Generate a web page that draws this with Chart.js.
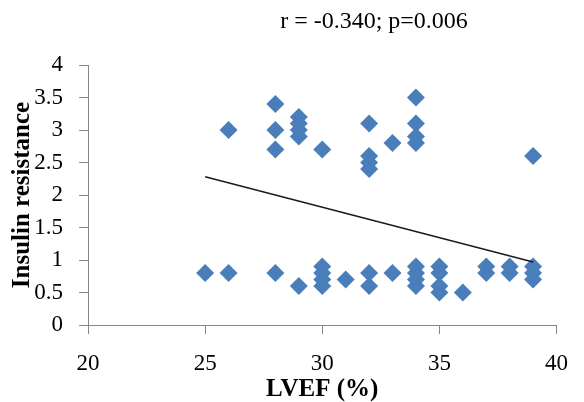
<!DOCTYPE html>
<html>
<head>
<meta charset="utf-8">
<script src="https://cdn.jsdelivr.net/npm/chart.js@4/dist/chart.umd.min.js"></script>
<style>
  body { margin: 0; background: #fff; }
</style>
</head>
<body>
<canvas id="scatter-chart" width="584" height="402"></canvas>
<script>
// data (paired by index)
const lvef = [
    26, 28, 28, 28, 29, 29, 29, 29, 30, 32, 32, 32, 32, 33, 34, 34, 34, 34, 39,
    25, 26, 28, 29, 30, 30, 30, 30, 31, 32, 32, 33, 34, 34, 34, 34,
    35, 35, 35, 35, 36, 37, 37, 38, 38, 39, 39, 39
];
const insulin = [
    3.0, 3.4, 3.0, 2.7, 3.2, 3.1, 3.0, 2.9, 2.7, 3.1, 2.6, 2.5, 2.4, 2.8, 3.5, 3.1, 2.9, 2.8, 2.6,
    0.8, 0.8, 0.8, 0.6, 0.9, 0.8, 0.7, 0.6, 0.7, 0.8, 0.6, 0.8, 0.9, 0.8, 0.7, 0.6,
    0.9, 0.8, 0.6, 0.5, 0.5, 0.9, 0.8, 0.9, 0.8, 0.9, 0.8, 0.7
];

// trend line end points
const trendX = [25, 39];
const trendY = [2.28, 0.97];

const xTicks = [20, 25, 30, 35, 40];
const yTicks = [0, 0.5, 1, 1.5, 2, 2.5, 3, 3.5, 4];
const statText = 'r = -0.340; p=0.006';

const serif = '"Liberation Serif", "Times New Roman", serif';

//stat text above the plot
const statPlugin = {
    id: 'statText',
    afterDraw(chart) {
        const ctx = chart.ctx;
        ctx.save();
        ctx.font = '24px ' + serif;
        ctx.fillStyle = '#000';
        ctx.textAlign = 'center';
        ctx.textBaseline = 'alphabetic';
        ctx.fillText(statText, 374, 28);
        ctx.restore();
    }
};

const points = lvef.map((x, i) => ({ x: x, y: insulin[i] }));
const trend = trendX.map((x, i) => ({ x: x, y: trendY[i] }));

const axisColor = '#868686';

new Chart(document.getElementById('scatter-chart'), {
    type: 'scatter',
    data: {
        datasets: [{
            data: trend,
            showLine: true,
            borderColor: '#1a1a1a',
            borderWidth: 1.4,
            pointRadius: 0,
            fill: false
        }, {
            data: points,
            pointStyle: 'rectRot',
            pointRadius: 9,
            pointHoverRadius: 9,
            backgroundColor: '#4A7EBB',
            borderColor: '#4A7EBB',
            borderWidth: 0
        }]
    },
    plugins: [statPlugin],
    options: {
        responsive: false,
        animation: false,
        layout: {
            padding: { top: 65, right: 14, left: 0, bottom: 0 }
        },
        plugins: {
            legend: { display: false },
            tooltip: { enabled: false }
        },
        scales: {
            x: {
                type: 'linear',
                min: 20,
                max: 40,
                afterFit: s => { s.height = 77; },
                afterBuildTicks: s => { s.ticks = xTicks.map(v => ({ value: v })); },
                grid: { drawOnChartArea: false, drawTicks: true, tickLength: 9, color: axisColor },
                border: { display: true, color: axisColor, width: 1 },
                ticks: {
                    padding: 16,
                    color: '#000',
                    maxRotation: 0,
                    callback: v => String(v),
                    font: { family: serif, size: 23 }
                },
                title: {
                    display: true,
                    text: 'LVEF (%)',
                    color: '#000',
                    padding: { top: 0, bottom: 0 },
                    font: { family: serif, size: 25, weight: 'bold', lineHeight: 1 }
                }
            },
            y: {
                type: 'linear',
                min: 0,
                max: 4,
                afterFit: s => { s.width = 88; },
                afterBuildTicks: s => { s.ticks = yTicks.map(v => ({ value: v })); },
                grid: { drawOnChartArea: false, drawTicks: true, tickLength: 9, color: axisColor },
                border: { display: true, color: axisColor, width: 1 },
                ticks: {
                    padding: 16,
                    color: '#000',
                    callback: v => String(v),
                    font: { family: serif, size: 23 }
                },
                title: {
                    display: true,
                    text: 'Insulin resistance',
                    color: '#000',
                    padding: { top: 10, bottom: 0 },
                    font: { family: serif, size: 25, weight: 'bold', lineHeight: 1 }
                }
            }
        }
    }
});
</script>
</body>
</html>
